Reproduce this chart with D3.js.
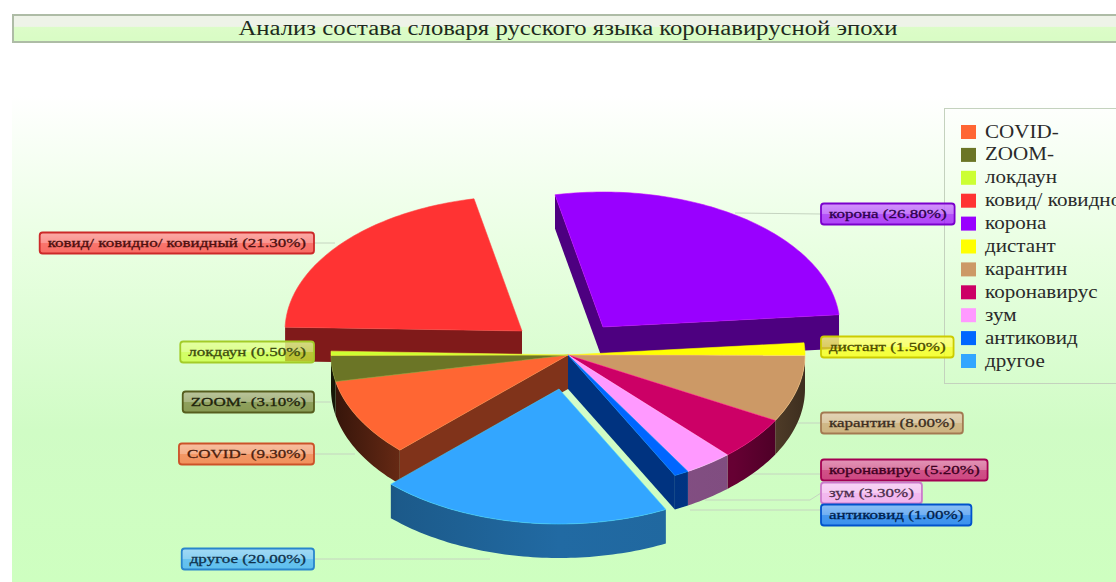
<!DOCTYPE html>
<html lang="ru">
<head>
<meta charset="utf-8">
<script src="https://cdn.jsdelivr.net/npm/d3@7/dist/d3.min.js"></script>
<style>
  html, body { margin: 0; padding: 0; background: #fff; overflow: hidden; }
  svg { display: block; }
  text { font-family: "Liberation Serif", serif; }
</style>
</head>
<body>
<svg id="chart" width="1116" height="582"></svg>
<script>
// Composition of the coronavirus-era Russian vocabulary
const chartTitle = "Анализ состава словаря русского языка коронавирусной эпохи";
const categories = ["COVID-", "ZOOM-", "локдаун", "ковид/ ковидно/ ковидный", "корона", "дистант",
                    "карантин", "коронавирус", "зум", "антиковид", "другое"];
const shares = [9.3, 3.1, 0.5, 21.3, 26.8, 1.5, 8.0, 5.2, 3.3, 1.0, 20.0];
const colors = ["#ff6633", "#6b7526", "#ccff33", "#ff3333", "#9900ff", "#ffff00",
                "#cc9966", "#cc0066", "#ff99ff", "#0066ff", "#33a6ff"];

// Layout: pulled-out slices and the callout position for each category
const pulled = {"ковид/ ковидно/ ковидный": [-46, -24], "корона": [35, -28], "другое": [-9, 34]};
const calloutY = [454, 402, 352, 243, 214, 347, 423, 470, 493, 515, 559];
const calloutSide = ["l", "l", "l", "l", "r", "r", "r", "r", "r", "r", "l"];
const calloutStem = [[355, 454], [331, 402], [331, 352], [335, 243], [735, 213], [805, 347],
                     [795, 423], [750, 474], [705, 500], [690, 510], [490, 559]];
const textStretch = 1.26, legendStretch = 1.17;

const W = 1116, H = 582;
const cx = 568, cy = 355, rx = 237, ry = 135, depth = 34;
const svg = d3.select("#chart");
const defs = svg.append("defs");

// Page backdrop
const bg = defs.append("linearGradient").attr("id", "bg").attr("x1", 0).attr("y1", 0).attr("x2", 0).attr("y2", 1);
[[0, "#ffffff"], [0.1, "#ffffff"], [0.38, "#e9ffe2"], [0.72, "#d0fcc5"], [1, "#ceffc0"]]
  .forEach(([o, c]) => bg.append("stop").attr("offset", o).attr("stop-color", c));
svg.append("rect").attr("x", 12).attr("y", 42).attr("width", W - 12).attr("height", H - 42).attr("fill", "url(#bg)");

// Title band
const band = defs.append("linearGradient").attr("id", "band").attr("x1", 0).attr("y1", 0).attr("x2", 0).attr("y2", 1);
[[0, "#eef3e8"], [0.42, "#eef3e8"], [0.46, "#dcfcc8"], [1, "#d8fcc4"]]
  .forEach(([o, c]) => band.append("stop").attr("offset", o).attr("stop-color", c));
svg.append("rect").attr("x", 13).attr("y", 15).attr("width", W).attr("height", 27)
  .attr("fill", "url(#band)").attr("stroke", "#aebca6").attr("stroke-width", 2);
svg.append("text").attr("x", cx).attr("y", 35).attr("text-anchor", "middle")
  .attr("font-size", 20).attr("fill", "#1e2a1e")
  .attr("textLength", 659).attr("lengthAdjust", "spacingAndGlyphs").text(chartTitle);

// Pie angles, clockwise from north
const startDeg = 225.2;
const pie = d3.pie().sort(null).value(d => d.share)
  .startAngle(startDeg * Math.PI / 180).endAngle((startDeg + 360) * Math.PI / 180);
const slices = pie(categories.map((name, i) => ({name, share: shares[i], color: colors[i], i})));
slices.forEach(s => {
  const [dx, dy] = pulled[s.data.name] || [0, 0];
  s.ox = cx + dx; s.oy = cy + dy;
});

const px = (s, a) => s.ox + rx * Math.sin(a);
const py = (s, a) => s.oy - ry * Math.cos(a);
const outline = d3.line();
const arcAngles = (a0, a1) => {
  const n = Math.max(2, Math.ceil(Math.abs(a1 - a0) / 0.02));
  return d3.range(n + 1).map(k => a0 + (a1 - a0) * k / n);
};
const shade = (c, k) => { const r = d3.rgb(c); return d3.rgb(r.r * k, r.g * k, r.b * k).formatHex(); };

// Rim shading runs dark at the far edges of the cylinder
slices.forEach(s => {
  const lift = s.data.name === "другое" ? 0.12 : 0;
  const g = defs.append("linearGradient").attr("id", "wall" + s.data.i)
    .attr("gradientUnits", "userSpaceOnUse")
    .attr("x1", s.ox - rx).attr("y1", 0).attr("x2", s.ox + rx).attr("y2", 0);
  [[0, 0.2], [0.16, 0.42], [0.5, 0.52], [0.85, 0.5], [1, 0.3]]
    .forEach(([o, k]) => g.append("stop").attr("offset", o).attr("stop-color", shade(s.data.color, k + lift)));
});

const chart = svg.append("g");

function sideFace(s, a, fill) {
  const tip = [s.ox, s.oy], edge = [px(s, a), py(s, a)];
  chart.append("path")
    .attr("d", outline([tip, edge, [edge[0], edge[1] + depth], [tip[0], tip[1] + depth]]) + "Z")
    .attr("fill", fill);
}

function rimFace(s) {
  const lo = Math.PI / 2, hi = 3 * Math.PI / 2;
  const spans = [[s.startAngle, s.endAngle], [s.startAngle - 2 * Math.PI, s.endAngle - 2 * Math.PI]];
  spans.forEach(([a0, a1]) => {
    const from = Math.max(a0, lo), to = Math.min(a1, hi);
    if (to <= from) return;
    const top = arcAngles(from, to).map(a => [px(s, a), py(s, a)]);
    const bottom = top.map(([x, y]) => [x, y + depth]).reverse();
    chart.append("path").attr("d", outline(top.concat(bottom)) + "Z")
      .attr("fill", `url(#wall${s.data.i})`);
  });
}

function topFace(s) {
  const rimPts = arcAngles(s.startAngle, s.endAngle).map(a => [px(s, a), py(s, a)]);
  chart.append("path").attr("d", outline([[s.ox, s.oy], ...rimPts]) + "Z")
    .attr("fill", s.data.color)
    .attr("stroke", d3.color(s.data.color).brighter(0.7).formatHex())
    .attr("stroke-opacity", 0.7).attr("stroke-width", 0.8).attr("stroke-linejoin", "round");
}

// Callout stems sit behind the pie
slices.forEach((s, i) => {
  const left = calloutSide[i] === "l";
  const boxEdge = left ? 314 : 821;
  const [sx, sy] = calloutStem[i];
  const pts = s.data.name === "зум"
    ? [[boxEdge, calloutY[i]], [boxEdge - 11, sy], [sx, sy]]
    : (s.data.name === "антиковид" || s.data.name === "коронавирус")
      ? [[boxEdge, sy], [sx, sy]]
      : [[boxEdge, calloutY[i]], [sx, sy]];
  svg.insert("path", "g").attr("d", outline(pts)).attr("fill", "none")
    .attr("stroke", "#c5d4c0").attr("stroke-width", 1);
});

// Draw order: pulled-out back slices, then the joined body, then the front slice
const order = ["ковид/ ковидно/ ковидный", "корона"];
const isPulled = s => !!pulled[s.data.name];
const back = slices.filter(s => order.includes(s.data.name));
const body = slices.filter(s => !isPulled(s));
const front = slices.filter(s => s.data.name === "другое");

function faces(group) {
  group.forEach(s => {
    const i = slices.indexOf(s), n = slices.length;
    const prev = slices[(i - 1 + n) % n], next = slices[(i + 1) % n];
    const cut = shade(s.data.color, 0.5);
    if (isPulled(prev) !== isPulled(s) || isPulled(s)) {
      if (Math.sin(s.startAngle) < 0) sideFace(s, s.startAngle, cut);
    }
    if (isPulled(next) !== isPulled(s) || isPulled(s)) {
      if (Math.sin(s.endAngle) > 0) sideFace(s, s.endAngle, cut);
    }
  });
  group.forEach(rimFace);
  group.forEach(topFace);
}
faces(back);
faces(body);
faces(front);

// Legend
const legendTop = 132, legendStep = 22.9;
svg.append("rect").attr("x", 944.5).attr("y", 108.5).attr("width", 200).attr("height", 275)
  .attr("fill", "none").attr("stroke", "#c4d2be").attr("stroke-width", 1);
const legendScale = d3.scalePoint().domain(categories)
  .range([legendTop, legendTop + legendStep * (categories.length - 1)]);
const legend = svg.append("g").selectAll("g").data(slices).join("g")
  .attr("transform", d => `translate(0,${legendScale(d.data.name)})`);
legend.append("rect").attr("x", 961).attr("y", -7).attr("width", 15).attr("height", 14)
  .attr("fill", d => d.data.color);
legend.append("text").attr("x", 985).attr("y", 5.5).attr("font-size", 18)
  .attr("fill", "#2a2a2a").text(d => d.data.name)
  .each(function () {
    d3.select(this).attr("textLength", this.getComputedTextLength() * legendStretch)
      .attr("lengthAdjust", "spacingAndGlyphs");
  });

// Glossy value callouts
const gloss = defs.append("linearGradient").attr("id", "gloss").attr("x1", 0).attr("y1", 0).attr("x2", 0).attr("y2", 1);
[[0, 0.42], [0.48, 0.28], [0.52, 0.06], [1, 0]]
  .forEach(([o, a]) => gloss.append("stop").attr("offset", o).attr("stop-color", "#fff").attr("stop-opacity", a));

slices.forEach((s, i) => {
  const g = svg.append("g");
  const label = `${s.data.name} (${s.data.share.toFixed(2)}%)`;
  const t = g.append("text").attr("y", calloutY[i] + 4).attr("font-size", 13.5)
    .attr("fill", shade(s.data.color, 0.3)).attr("stroke", shade(s.data.color, 0.3))
    .attr("stroke-width", 0.3).text(label);
  const w = t.node().getComputedTextLength() * textStretch;
  t.attr("textLength", w).attr("lengthAdjust", "spacingAndGlyphs");
  const bw = w + 16, bh = 21;
  const left = calloutSide[i] === "l";
  const x0 = left ? 314 - bw : 821;
  t.attr("x", x0 + 8);
  const tint = d3.rgb(s.data.color); tint.opacity = 0.72;
  g.insert("rect", "text").attr("x", x0).attr("y", calloutY[i] - bh / 2).attr("width", bw).attr("height", bh)
    .attr("rx", 3).attr("fill", tint.formatRgb());
  g.insert("rect", "text").attr("x", x0).attr("y", calloutY[i] - bh / 2).attr("width", bw).attr("height", bh)
    .attr("rx", 3).attr("fill", "url(#gloss)")
    .attr("stroke", shade(s.data.color, 0.8)).attr("stroke-width", 1.8);
});
</script>
</body>
</html>
